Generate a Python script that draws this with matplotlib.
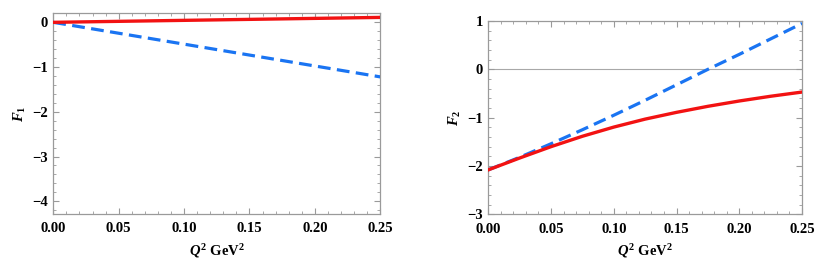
import matplotlib
matplotlib.use("Agg")
import matplotlib.pyplot as plt
from matplotlib.ticker import MultipleLocator, FixedLocator

plt.rcParams['font.family'] = ['Liberation Serif', 'DejaVu Serif']
plt.rcParams['font.weight'] = 'bold'
plt.rcParams['mathtext.fontset'] = 'custom'
plt.rcParams['mathtext.rm'] = 'Liberation Serif:bold'
plt.rcParams['mathtext.bf'] = 'Liberation Serif:bold'
plt.rcParams['mathtext.it'] = 'Liberation Serif:italic:bold'
plt.rcParams['axes.unicode_minus'] = True

# ---- data ----
q2 = [0.0, 0.025, 0.05, 0.075, 0.10, 0.125, 0.15, 0.175, 0.20, 0.225, 0.25]
f1_red = [0.0, 0.011, 0.022, 0.033, 0.044, 0.055, 0.066, 0.077, 0.088, 0.099, 0.11]
f1_blue = [0.0, -0.122, -0.244, -0.366, -0.488, -0.61, -0.732, -0.854, -0.976, -1.098, -1.22]
f2_red = [-2.08, -1.835, -1.60, -1.385, -1.195, -1.03, -0.89, -0.765, -0.655, -0.557, -0.47]
f2_blue = [-2.08, -1.82, -1.54, -1.25, -0.95, -0.64, -0.32, 0.0, 0.31, 0.63, 0.95]

xticks = [0.00, 0.05, 0.10, 0.15, 0.20, 0.25]
xticklabels = ['0.00', '0.05', '0.10', '0.15', '0.20', '0.25']
f1_yticks = [0, -1, -2, -3, -4]
f1_yticklabels = ['0', '\u22121', '\u22122', '\u22123', '\u22124']
f2_yticks = [1, 0, -1, -2, -3]
f2_yticklabels = ['1', '0', '\u22121', '\u22122', '\u22123']

RED = '#f21212'
BLUE = '#1a74f2'
FRAME = '#9a9a9a'
TICKFONT = dict(family='Liberation Serif', weight='bold', size=10.5)

fig = plt.figure(figsize=(8.3, 2.73), dpi=100)
ax1 = fig.add_axes([0.0642, 0.217, 0.394, 0.734])
ax2 = fig.add_axes([0.5883, 0.215, 0.378, 0.708])


def style(ax, yticks, yticklabels, ylim, ylabel, zero_line):
    ax.set_xlim(0, 0.25)
    ax.set_ylim(*ylim)
    ax.xaxis.set_major_locator(FixedLocator(xticks))
    ax.set_xticklabels(xticklabels, fontdict=TICKFONT)
    ax.xaxis.set_minor_locator(MultipleLocator(0.01))
    ax.yaxis.set_major_locator(FixedLocator(yticks))
    ax.set_yticklabels(yticklabels, fontdict=TICKFONT)
    ax.yaxis.set_minor_locator(MultipleLocator(0.2))
    ax.tick_params(which='both', direction='in', top=True, right=True,
                   color=FRAME)
    ax.tick_params(axis='x', which='major', pad=6)
    ax.tick_params(axis='y', which='major', pad=4)
    ax.tick_params(which='major', length=4, width=0.8)
    ax.tick_params(which='minor', length=2.2, width=0.6)
    for s in ax.spines.values():
        s.set_color(FRAME)
        s.set_linewidth(0.9)
    if zero_line:
        ax.axhline(0, color='#a8a8a8', lw=0.8, zorder=1)
    ax.set_xlabel(r'$Q^2\ \mathrm{GeV}^2$', fontsize=10.5, labelpad=5)
    ax.set_ylabel(ylabel, fontsize=10.5, labelpad=3)


ax1.plot(q2, f1_blue, color=BLUE, lw=2.3, dashes=(4, 2.0), zorder=3)
ax1.plot(q2, f1_red, color=RED, lw=2.4, zorder=4)
style(ax1, f1_yticks, f1_yticklabels, (-4.28, 0.2), r'$F_1$', False)

ax2.plot(q2, f2_blue, color=BLUE, lw=2.3, dashes=(4, 2.0), zorder=3)
ax2.plot(q2, f2_red, color=RED, lw=2.4, zorder=4)
style(ax2, f2_yticks, f2_yticklabels, (-3, 1), r'$F_2$', True)

fig.savefig('out.png', dpi=100)
